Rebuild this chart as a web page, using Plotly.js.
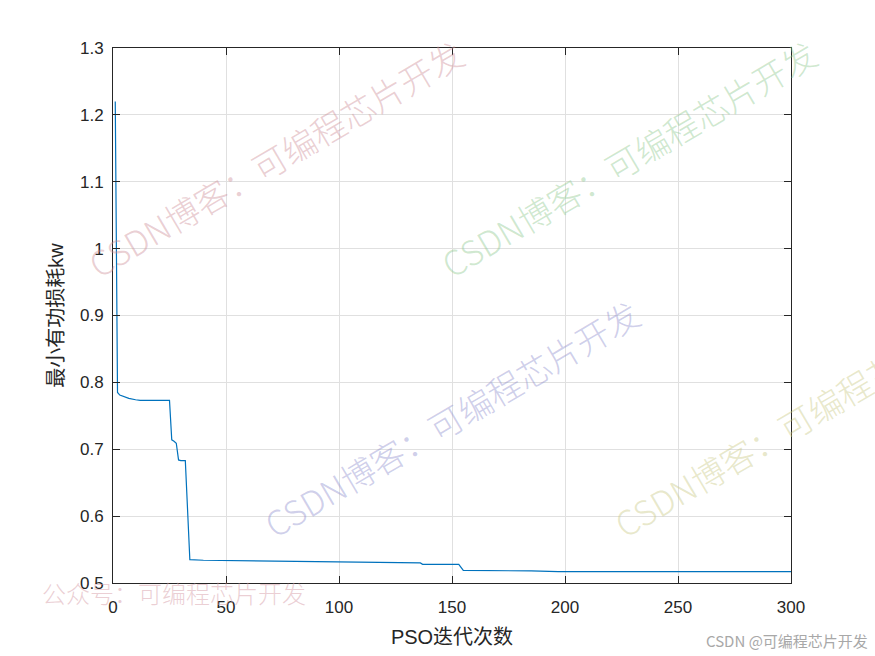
<!DOCTYPE html>
<html>
<head>
<meta charset="utf-8">
<script src="https://cdn.plot.ly/plotly-3.0.1.min.js"></script>
<style>html,body{margin:0;padding:0;background:#fff;}#chart{width:875px;height:656px;}</style>
</head>
<body>
<div id="chart"></div>
<script>
// Iteration breakpoints and best fitness (minimum active power loss, kW)
const iterations = [1, 2, 3, 5, 7, 10, 12, 25, 26, 27, 28, 29, 30, 32, 33, 34, 40, 60, 100, 136, 137, 153, 155, 170, 185, 197, 300];
const lossKw =     [1.22, 0.785, 0.781, 0.778, 0.776, 0.774, 0.773, 0.773, 0.714, 0.712, 0.709, 0.684, 0.683, 0.683, 0.600, 0.535, 0.534, 0.533, 0.531, 0.530, 0.528, 0.528, 0.519, 0.519, 0.518, 0.517, 0.517];

const xTicks = [0, 50, 100, 150, 200, 250, 300];
const yTicks = [0.5, 0.6, 0.7, 0.8, 0.9, 1.0, 1.1, 1.2, 1.3];
const yTickText = ['0.5', '0.6', '0.7', '0.8', '0.9', '1', '1.1', '1.2', '1.3'];

const xTitle = 'PSO迭代次数';
const yTitle = '最小有功损耗kw';
const watermarkText = 'CSDN博客：可编程芯片开发';
const footerLeft = '公众号：可编程芯片开发';
const footerRight = 'CSDN @可编程芯片开发';

const axisFont = {family: 'Liberation Sans, Arial, sans-serif', size: 17, color: '#262626'};

const trace = {
  x: iterations,
  y: lossKw,
  type: 'scatter',
  mode: 'lines',
  line: {color: '#0072BD', width: 1.2},
  hoverinfo: 'skip'
};

function wm(x, y, color) {
  return {
    xref: 'paper', yref: 'paper', x: x, y: y, xanchor: 'center', yanchor: 'middle',
    text: watermarkText, showarrow: false, textangle: -30.5,
    font: {family: 'Noto Sans CJK SC, sans-serif', size: 34, weight: 300, color: color}
  };
}
// plot area: x 113..791, y 48..583
function px(xp) { return (xp - 113) / 678; }
function py(yp) { return (583 - yp) / 535; }

const annotations = [
  wm(px(275), py(158), 'rgba(205,140,150,0.42)'),
  wm(px(628), py(158), 'rgba(140,200,140,0.42)'),
  wm(px(451), py(418), 'rgba(140,140,205,0.42)'),
  wm(px(801), py(418), 'rgba(200,200,130,0.42)'),
  {xref: 'paper', yref: 'paper', x: px(174), y: py(592), xanchor: 'center', yanchor: 'middle',
   text: footerLeft, showarrow: false,
   font: {family: 'Noto Sans CJK SC, sans-serif', size: 24, weight: 300, color: 'rgba(215,160,170,0.5)'}},
  {xref: 'paper', yref: 'paper', x: px(870), y: py(640), xanchor: 'right', yanchor: 'middle',
   text: footerRight, showarrow: false,
   font: {family: 'Noto Sans CJK SC, sans-serif', size: 15, color: '#a8a8a8'}}
];

const layout = {
  width: 875, height: 656,
  margin: {l: 113, r: 84, t: 48, b: 73},
  paper_bgcolor: '#ffffff', plot_bgcolor: '#ffffff',
  showlegend: false,
  font: axisFont,
  xaxis: {
    range: [0, 300], tickvals: xTicks, ticktext: xTicks.map(String),
    ticks: 'inside', ticklen: 7, tickcolor: '#262626', tickwidth: 1,
    showline: true, linecolor: '#262626', linewidth: 1, mirror: 'ticks',
    showgrid: true, gridcolor: '#e0e0e0', gridwidth: 1, zeroline: false,
    tickfont: axisFont, ticklabelstandoff: 9,
    title: {text: xTitle, font: {family: 'Liberation Sans, Noto Sans CJK SC, sans-serif', size: 20, color: '#262626'}, standoff: 13}
  },
  yaxis: {
    range: [0.5, 1.3], tickvals: yTicks, ticktext: yTickText,
    ticks: 'inside', ticklen: 7, tickcolor: '#262626', tickwidth: 1,
    showline: true, linecolor: '#262626', linewidth: 1, mirror: 'ticks',
    showgrid: true, gridcolor: '#e0e0e0', gridwidth: 1, zeroline: false,
    tickfont: axisFont, ticklabelstandoff: 5,
    title: {text: yTitle, font: {family: 'Liberation Sans, Noto Sans CJK SC, sans-serif', size: 20, color: '#262626'}, standoff: 10}
  },
  annotations: annotations
};

Plotly.newPlot('chart', [trace], layout, {staticPlot: true, displayModeBar: false});
</script>
</body>
</html>
